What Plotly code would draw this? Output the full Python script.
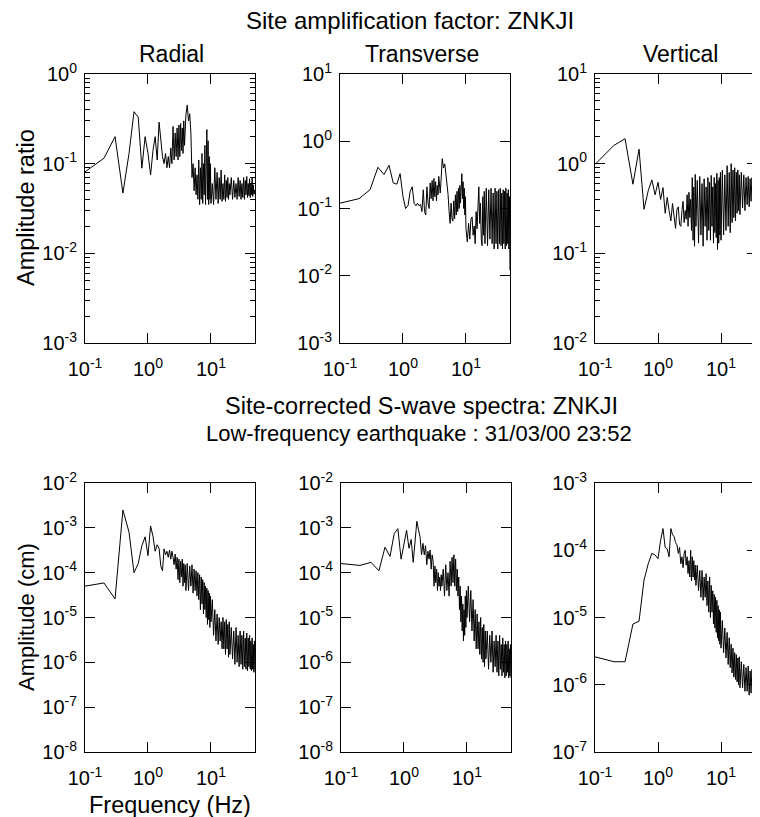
import plotly.graph_objects as go

# ---------------- data ----------------
FREQ = [
    0.1, 0.2, 0.3, 0.4, 0.5, 0.6, 0.7, 0.8, 0.9, 1.0,
    1.1, 1.2, 1.3, 1.4, 1.5, 1.6, 1.7, 1.8, 1.9, 2.0,
    2.1, 2.2, 2.3, 2.4, 2.5, 2.6, 2.7, 2.8, 2.9, 3.0,
    3.1, 3.2, 3.3, 3.4, 3.5, 3.6, 3.7, 3.8, 3.9, 4.0,
    4.2, 4.4, 4.6, 4.8, 5.0, 5.2, 5.4, 5.6, 5.8, 6.0,
    6.2, 6.4, 6.6, 6.8, 7.0, 7.2, 7.4, 7.6, 7.8, 8.0,
    8.2, 8.4, 8.6, 8.8, 9.0, 9.2, 9.4, 9.6, 9.8, 10.0,
    10.5, 11.0, 11.5, 12.0, 12.5, 13.0, 13.5, 14.0, 14.5, 15.0,
    15.5, 16.0, 16.5, 17.0, 17.5, 18.0, 18.5, 19.0, 19.5, 20.0,
    21, 22, 23, 24, 25, 26, 27, 28, 29, 30,
    31, 32, 33, 34, 35, 36, 37, 38, 39, 40,
    41, 42, 43, 44, 45, 46, 47, 48, 49, 50,
]

# Site amplification factor (amplitude ratio)
RATIO_RADIAL = [
    0.081, 0.115, 0.20, 0.047, 0.13, 0.38, 0.33, 0.089, 0.20, 0.13,
    0.075, 0.14, 0.20, 0.11, 0.29, 0.17, 0.12, 0.10, 0.13, 0.09,
    0.12, 0.09, 0.15, 0.10, 0.26, 0.11, 0.22, 0.12, 0.25, 0.11,
    0.27, 0.12, 0.28, 0.14, 0.25, 0.13, 0.30, 0.16, 0.26, 0.35,
    0.45, 0.30, 0.36, 0.22, 0.07, 0.10, 0.05, 0.09, 0.045, 0.075,
    0.04, 0.11, 0.035, 0.09, 0.04, 0.13, 0.036, 0.10, 0.045, 0.16,
    0.035, 0.20, 0.24, 0.04, 0.18, 0.035, 0.12, 0.04, 0.10, 0.036,
    0.06, 0.035, 0.09, 0.04, 0.08, 0.036, 0.07, 0.04, 0.085, 0.038,
    0.06, 0.04, 0.075, 0.038, 0.065, 0.042, 0.07, 0.04, 0.06, 0.045,
    0.07, 0.04, 0.065, 0.042, 0.06, 0.04, 0.07, 0.043, 0.065, 0.04,
    0.06, 0.042, 0.07, 0.04, 0.065, 0.045, 0.072, 0.042, 0.06, 0.044,
    0.068, 0.042, 0.06, 0.045, 0.07, 0.043, 0.058, 0.046, 0.05, 0.045,
]
RATIO_TRANSVERSE = [
    0.12, 0.14, 0.19, 0.41, 0.32, 0.44, 0.24, 0.23, 0.33, 0.15,
    0.10, 0.11, 0.18, 0.21, 0.12, 0.11, 0.12, 0.11, 0.115, 0.09,
    0.19, 0.09, 0.08, 0.21, 0.12, 0.10, 0.24, 0.14, 0.26, 0.13,
    0.28, 0.15, 0.25, 0.13, 0.22, 0.16, 0.30, 0.21, 0.17, 0.24,
    0.55, 0.40, 0.46, 0.33, 0.25, 0.16, 0.09, 0.06, 0.12, 0.07,
    0.065, 0.13, 0.07, 0.16, 0.08, 0.18, 0.09, 0.20, 0.10, 0.22,
    0.12, 0.28, 0.33, 0.14, 0.25, 0.10, 0.20, 0.08, 0.15, 0.05,
    0.032, 0.06, 0.035, 0.07, 0.075, 0.04, 0.055, 0.03, 0.09, 0.05,
    0.15, 0.21, 0.06, 0.12, 0.035, 0.028, 0.15, 0.04, 0.18, 0.03,
    0.20, 0.028, 0.19, 0.035, 0.20, 0.03, 0.17, 0.025, 0.20, 0.03,
    0.18, 0.025, 0.19, 0.03, 0.20, 0.028, 0.17, 0.025, 0.19, 0.03,
    0.18, 0.025, 0.20, 0.028, 0.17, 0.03, 0.19, 0.025, 0.15, 0.012,
]
RATIO_VERTICAL = [
    0.98, 1.6, 1.9, 0.59, 1.45, 0.31, 0.50, 0.66, 0.45, 0.62,
    0.40, 0.54, 0.28, 0.42, 0.30, 0.23, 0.36, 0.27, 0.19, 0.31,
    0.33, 0.21, 0.20, 0.30, 0.38, 0.22, 0.30, 0.24, 0.45, 0.20,
    0.48, 0.25, 0.40, 0.18, 0.70, 0.14, 0.55, 0.12, 0.76, 0.20,
    0.65, 0.13, 0.72, 0.16, 0.60, 0.12, 0.68, 0.20, 0.55, 0.14,
    0.70, 0.18, 0.62, 0.14, 0.74, 0.20, 0.55, 0.13, 0.70, 0.17,
    0.60, 0.15, 0.78, 0.11, 0.65, 0.13, 0.70, 0.16, 0.80, 0.14,
    0.85, 0.16, 0.75, 0.18, 0.95, 0.20, 0.80, 0.17, 1.00, 0.22,
    0.85, 0.25, 0.90, 0.23, 0.80, 0.28, 0.85, 0.30, 0.75, 0.27,
    0.80, 0.32, 0.75, 0.30, 0.70, 0.35, 0.72, 0.33, 0.68, 0.38,
    0.70, 0.40, 0.65, 0.38, 0.68, 0.42, 0.62, 0.40, 0.66, 0.45,
    0.60, 0.43, 0.65, 0.46, 0.58, 0.45, 0.60, 0.48, 0.55, 0.50,
]

# Site-corrected S-wave spectra (amplitude, cm)
SPEC_RADIAL = [
    5.0e-5, 5.9e-5, 2.6e-5, 2.5e-3, 8.0e-4, 1.0e-4, 1.6e-4, 4.0e-4, 6.3e-4, 2.4e-4,
    1.1e-3, 6.5e-4, 3.0e-4, 4.2e-4, 3.5e-4, 1.4e-4, 1.1e-4, 3.4e-4, 2.5e-4, 3.0e-4,
    2.2e-4, 3.2e-4, 2.0e-4, 3.0e-4, 2.2e-4, 1.5e-4, 2.6e-4, 1.2e-4, 2.2e-4, 7.0e-5,
    2.0e-4, 6.0e-5, 1.8e-4, 8.0e-5, 2.0e-4, 5.0e-5, 1.6e-4, 6.0e-5, 1.5e-4, 4.0e-5,
    1.6e-4, 4.0e-5, 1.4e-4, 5.0e-5, 1.5e-4, 3.5e-5, 1.2e-4, 4.0e-5, 1.1e-4, 3.0e-5,
    1.0e-4, 2.5e-5, 9.0e-5, 1.5e-5, 8.0e-5, 2.0e-5, 7.0e-5, 1.2e-5, 6.0e-5, 1.5e-5,
    5.0e-5, 1.0e-5, 4.5e-5, 7.0e-6, 4.0e-5, 9.0e-6, 3.5e-5, 6.0e-6, 3.0e-5, 8.0e-6,
    2.5e-5, 4.0e-6, 1.5e-5, 3.0e-6, 1.2e-5, 2.5e-6, 1.0e-5, 3.0e-6, 8.0e-6, 2.0e-6,
    1.0e-5, 2.0e-6, 8.0e-6, 1.5e-6, 9.0e-6, 2.0e-6, 7.0e-6, 1.3e-6, 8.0e-6, 1.5e-6,
    6.0e-6, 1.2e-6, 5.0e-6, 9.0e-7, 6.0e-6, 1.0e-6, 4.0e-6, 8.0e-7, 5.0e-6, 9.0e-7,
    4.0e-6, 7.0e-7, 5.0e-6, 8.0e-7, 3.5e-6, 7.0e-7, 4.5e-6, 6.5e-7, 3.5e-6, 8.0e-7,
    4.0e-6, 7.0e-7, 3.0e-6, 6.5e-7, 3.5e-6, 7.0e-7, 2.5e-6, 6.0e-7, 3.0e-6, 6.7e-7,
]
SPEC_TRANSVERSE = [
    1.6e-4, 1.45e-4, 1.7e-4, 1.1e-4, 3.7e-4, 2.3e-4, 7.4e-4, 9.6e-4, 2.0e-4, 4.5e-4,
    8.8e-4, 3.5e-4, 5.5e-4, 1.7e-4, 6.0e-4, 1.4e-3, 9.0e-4, 6.3e-4, 2.5e-4, 4.5e-4,
    2.5e-4, 4.0e-4, 1.5e-4, 3.0e-4, 2.0e-4, 3.2e-4, 1.2e-4, 2.5e-4, 1.8e-4, 5.0e-5,
    1.4e-4, 6.0e-5, 1.2e-4, 4.0e-5, 1.0e-4, 5.0e-5, 8.0e-5, 4.0e-5, 9.0e-5, 5.0e-5,
    1.2e-4, 3.0e-5, 1.5e-4, 4.0e-5, 1.0e-4, 3.0e-5, 1.8e-4, 5.0e-5, 2.2e-4, 6.0e-5,
    2.5e-4, 5.0e-5, 2.0e-4, 4.0e-5, 1.2e-4, 3.0e-5, 8.0e-5, 1.5e-5, 5.0e-5, 8.0e-6,
    3.0e-5, 5.0e-6, 2.0e-5, 3.0e-6, 1.5e-5, 4.0e-6, 3.0e-5, 6.0e-6, 4.0e-5, 1.0e-5,
    5.0e-5, 8.0e-6, 4.0e-5, 5.0e-6, 2.5e-5, 3.0e-6, 1.5e-5, 2.0e-6, 1.2e-5, 2.0e-6,
    8.0e-6, 1.5e-6, 1.0e-5, 1.2e-6, 6.0e-6, 1.0e-6, 7.0e-6, 8.0e-7, 5.0e-6, 1.2e-6,
    5.0e-6, 7.0e-7, 4.0e-6, 1.0e-6, 5.0e-6, 6.0e-7, 3.0e-6, 8.0e-7, 4.0e-6, 6.0e-7,
    3.0e-6, 5.0e-7, 4.0e-6, 7.0e-7, 2.5e-6, 5.0e-7, 3.5e-6, 6.0e-7, 2.5e-6, 4.5e-7,
    3.0e-6, 5.0e-7, 2.5e-6, 6.0e-7, 3.0e-6, 4.5e-7, 2.0e-6, 5.0e-7, 2.5e-6, 4.5e-7,
]
SPEC_VERTICAL = [
    2.6e-6, 2.2e-6, 2.2e-6, 8.0e-6, 8.8e-6, 3.6e-5, 6.3e-5, 9.0e-5, 8.5e-5, 7.5e-5,
    1.4e-4, 2.1e-4, 1.1e-4, 1.05e-4, 8.0e-5, 2.1e-4, 1.7e-4, 1.6e-4, 1.3e-4, 1.2e-4,
    9.0e-5, 1.1e-4, 6.3e-5, 8.0e-5, 5.5e-5, 9.0e-5, 1.0e-4, 6.0e-5, 8.0e-5, 4.5e-5,
    7.0e-5, 4.0e-5, 1.0e-4, 3.5e-5, 8.0e-5, 4.0e-5, 7.0e-5, 3.6e-5, 6.0e-5, 3.0e-5,
    6.0e-5, 2.5e-5, 5.0e-5, 2.0e-5, 5.0e-5, 1.8e-5, 4.0e-5, 2.0e-5, 4.5e-5, 1.5e-5,
    3.5e-5, 1.2e-5, 4.0e-5, 1.0e-5, 3.0e-5, 1.2e-5, 2.5e-5, 8.0e-6, 2.2e-5, 7.0e-6,
    2.0e-5, 6.0e-6, 1.8e-5, 5.0e-6, 1.5e-5, 4.5e-6, 1.3e-5, 4.0e-6, 1.2e-5, 3.5e-6,
    9.0e-6, 3.0e-6, 7.0e-6, 2.5e-6, 6.0e-6, 2.0e-6, 5.0e-6, 1.8e-6, 4.0e-6, 1.5e-6,
    3.5e-6, 1.3e-6, 3.0e-6, 1.2e-6, 2.8e-6, 1.1e-6, 2.5e-6, 1.0e-6, 2.6e-6, 9.0e-7,
    2.2e-6, 9.0e-7, 2.0e-6, 8.0e-7, 1.8e-6, 8.0e-7, 1.9e-6, 7.0e-7, 1.6e-6, 7.5e-7,
    1.7e-6, 7.0e-7, 1.5e-6, 7.5e-7, 1.6e-6, 6.5e-7, 1.4e-6, 7.0e-7, 1.5e-6, 6.5e-7,
    1.4e-6, 7.0e-7, 1.3e-6, 6.5e-7, 1.2e-6, 7.0e-7, 1.3e-6, 7.0e-7, 1.1e-6, 8.0e-7,
]

X_TICKS = [0.1, 1, 10]
X_TICKTEXT = ["10<sup>-1</sup>", "10<sup>0</sup>", "10<sup>1</sup>"]

# ---------------- layout helpers ----------------
# The page body has an 8 px default margin, so the figure is drawn 8 px in
# from the window's top-left corner; positions below are window pixels.
OFF = 8
W, H = 760 - OFF, 817 - OFF
FONT = "Liberation Sans, Arial, Helvetica, sans-serif"
TICK_SIZE = 20


def xdom(x0, x1):
    return [(x0 - OFF) / W, (x1 - OFF) / W]


def ydom(y0, y1):
    return [1 - (y1 - OFF) / H, 1 - (y0 - OFF) / H]


def ylabels(lo, hi):
    vals = [10.0 ** k for k in range(lo, hi + 1)]
    txt = ["10<sup>%d</sup>" % k for k in range(lo, hi + 1)]
    return vals, txt


def yminor(lo, hi):
    out = []
    for k in range(lo, hi):
        for m in range(2, 10):
            out.append(m * 10.0 ** k)
    return out


panels = [
    # data, xdomain px, ydomain px, y decades, xmax(log), minor
    (RATIO_RADIAL, (85, 255), (74, 343), (-3, 0), 1.699, True),
    (RATIO_TRANSVERSE, (340, 510), (74, 343), (-3, 1), 1.699, False),
    (RATIO_VERTICAL, (595, 757), (74, 343), (-2, 1), -1 + 162 / 63, True),
    (SPEC_RADIAL, (85, 255), (483, 752), (-8, -2), 1.699, False),
    (SPEC_TRANSVERSE, (341, 511), (483, 752), (-8, -2), 1.699, False),
    (SPEC_VERTICAL, (595, 757), (483, 752), (-7, -3), -1 + 162 / 63, False),
]

fig = go.Figure()
layout = dict(
    template="none",
    width=W, height=H, autosize=False,
    margin=dict(l=0, r=0, t=0, b=0, pad=0, autoexpand=False),
    paper_bgcolor="white", plot_bgcolor="white",
    showlegend=False,
    font=dict(family=FONT, color="black", size=TICK_SIZE),
)

for i, (vals, xd, yd, (ylo, yhi), xmax, minor) in enumerate(panels, start=1):
    xa = "x" if i == 1 else "x%d" % i
    ya = "y" if i == 1 else "y%d" % i
    fig.add_trace(go.Scatter(
        x=FREQ, y=vals, mode="lines",
        line=dict(color="black", width=1),
        xaxis=xa, yaxis=ya, hoverinfo="skip",
    ))
    common = dict(
        type="log", showline=True, linecolor="black", linewidth=1,
        mirror="ticks", ticks="inside", ticklen=10, tickwidth=1,
        tickcolor="black", showgrid=False, zeroline=False, automargin=False,
        tickfont=dict(family=FONT, size=TICK_SIZE, color="black"),
    )
    xkey = "xaxis" if i == 1 else "xaxis%d" % i
    ykey = "yaxis" if i == 1 else "yaxis%d" % i
    layout[xkey] = dict(
        common, domain=xdom(*xd), anchor=ya, range=[-1, xmax],
        tickvals=X_TICKS, ticktext=X_TICKTEXT, ticklabelstandoff=8,
    )
    yv, yt = ylabels(ylo, yhi)
    yax = dict(
        common, domain=ydom(*yd), anchor=xa, range=[ylo, yhi],
        tickvals=yv, ticktext=yt, ticklabelstandoff=3,
    )
    if minor:
        yax["minor"] = dict(ticks="inside", ticklen=5, tickwidth=1,
                            tickcolor="black", tickvals=yminor(ylo, yhi),
                            showgrid=False)
    layout[ykey] = yax

fig.update_layout(**layout)


def note(text, xpx, ypx, size=23, angle=0):
    fig.add_annotation(
        text=text, x=(xpx - OFF) / W, y=1 - (ypx - OFF) / H,
        xref="paper", yref="paper",
        xanchor="center", yanchor="middle", showarrow=False,
        textangle=angle, font=dict(family=FONT, size=size, color="black"),
    )


note("Site amplification factor: ZNKJI", 410, 21, size=24)
note("Radial", 171, 54)
note("Transverse", 422, 54)
note("Vertical", 680, 54)
note("Site-corrected S-wave spectra: ZNKJI", 421, 406, size=23.5)
note("Low-frequency earthquake : 31/03/00 23:52", 419, 433, size=22)
note("Frequency (Hz)", 170, 805, size=23.5)
note("Amplitude ratio", 26, 208, size=23.5, angle=-90)
note("Amplitude (cm)", 26, 617, size=22, angle=-90)

fig.write_html("out.html")
